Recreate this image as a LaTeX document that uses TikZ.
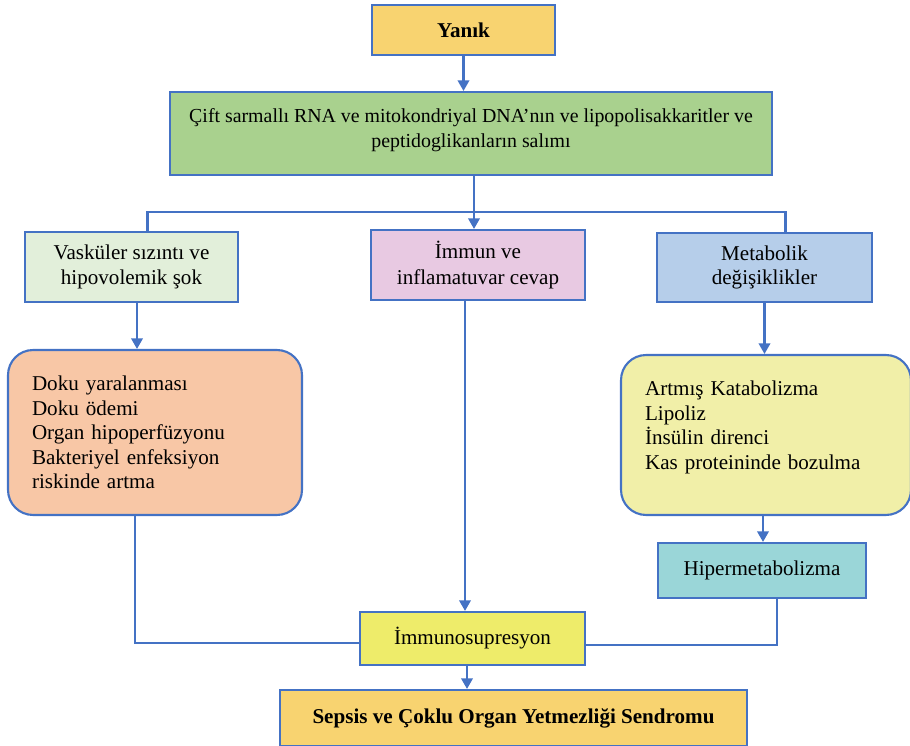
\documentclass[tikz,border=0pt]{standalone}
\usepackage{fontspec}
\setmainfont{Liberation Serif}
\usetikzlibrary{arrows.meta}

\definecolor{edgeblue}{RGB}{68,114,196}
\definecolor{gold}{RGB}{248,211,112}
\definecolor{leafgreen}{RGB}{169,209,142}
\definecolor{palegreen}{RGB}{226,239,218}
\definecolor{palepink}{RGB}{232,201,226}
\definecolor{paleblue}{RGB}{182,206,234}
\definecolor{peach}{RGB}{248,199,166}
\definecolor{paleyellow}{RGB}{241,239,168}
\definecolor{teal}{RGB}{154,214,216}
\definecolor{lemon}{RGB}{238,236,106}

\begin{document}
\begin{tikzpicture}[x=0.02cm, y=-0.02cm, >={Triangle[width=6.5pt,length=6pt]},
  box/.style={draw=edgeblue, line width=1.2pt, align=center, inner sep=3pt,
    font=\fontsize{12}{14}\selectfont},
  softbox/.style={box, rounded corners=0.5cm, align=left, inner xsep=0.48cm},
  conn/.style={draw=edgeblue, line width=1.2pt}]
  \useasboundingbox (0,0) rectangle (910,746);
  % top of the chain
  \node[box, fill=gold, minimum width=3.66cm, minimum height=1cm, font=\fontsize{12}{14}\selectfont\bfseries]
    (yanik) at (463.5,30) {Yanık};
  \node[box, fill=leafgreen, minimum width=12.04cm, minimum height=1.66cm, font=\fontsize{11.3}{14}\selectfont]
    (salim) at (471,133.5) {Çift sarmallı RNA ve mitokondriyal DNA’nın ve lipopolisakkaritler ve\\ peptidoglikanların salımı\\[-8pt]\mbox{}};
  % three branches
  \node[box, fill=palegreen, minimum width=4.26cm, minimum height=1.4cm]
    (vask) at (131.5,267) {Vasküler sızıntı ve\\ hipovolemik şok};
  \node[box, fill=palepink, minimum width=4.28cm, minimum height=1.4cm]
    (immun) at (478,265) {İmmun ve\\[1pt] inflamatuvar cevap};
  \node[box, fill=paleblue, minimum width=4.3cm, minimum height=1.38cm]
    (metab) at (764.5,267.5) {Metabolik\\ değişiklikler};
  % effects
  \node[softbox, fill=peach, text width=4.92cm, minimum height=3.3cm]
    (doku) at (155,432.5) {Doku yaralanması\\ Doku ödemi\\ Organ hipoperfüzyonu\\ Bakteriyel enfeksiyon\\ riskinde artma};
  \node[softbox, fill=paleyellow, text width=4.84cm, minimum height=3.2cm]
    (artmis) at (766,435) {Artmış Katabolizma\\ Lipoliz\\ İnsülin direnci\\ Kas proteininde bozulma\\[-3pt]\mbox{}};
  \node[box, fill=teal, minimum width=4.16cm, minimum height=1.1cm]
    (hiper) at (762,570.5) {Hipermetabolizma};
  % end of the chain
  \node[box, fill=lemon, minimum width=4.5cm, minimum height=1.06cm]
    (immuno) at (472.5,638.5) {İmmunosupresyon};
  \node[box, fill=gold, minimum width=9.34cm, minimum height=1.12cm, font=\fontsize{12}{14}\selectfont\bfseries]
    (sepsis) at (513.5,718) {Sepsis ve Çoklu Organ Yetmezliği Sendromu};
  % connectors
  \coordinate (split) at (474,212);
  \draw[conn,->] (yanik.south) -- (yanik.south |- salim.north);
  \draw[conn] (split |- salim.south) -- (split);
  \draw[conn] (split) -| ([xshift=0.32cm]vask.north);
  \draw[conn] (split) -| ([xshift=0.42cm]metab.north);
  \draw[conn,->] (split) -- (split |- immun.north);
  \draw[conn,->] ([xshift=0.11cm]vask.south) -- ([xshift=0.11cm]vask.south |- doku.north);
  \draw[conn,->] (metab.south) -- (metab.south |- artmis.north);
  \draw[conn,->] ([xshift=-0.06cm]artmis.south) -- ([xshift=-0.06cm]artmis.south |- hiper.north);
  \draw[conn] ([xshift=-0.4cm]doku.south) |- ([yshift=-0.09cm]immuno.west);
  \draw[conn,->] ([xshift=-0.26cm]immun.south) -- ([xshift=-0.26cm]immun.south |- immuno.north);
  \draw[conn] ([xshift=0.3cm]hiper.south) |- ([yshift=-0.13cm]immuno.east);
  \draw[conn,->] ([xshift=-0.11cm]immuno.south) -- ([xshift=-0.11cm]immuno.south |- sepsis.north);
\end{tikzpicture}
\end{document}
